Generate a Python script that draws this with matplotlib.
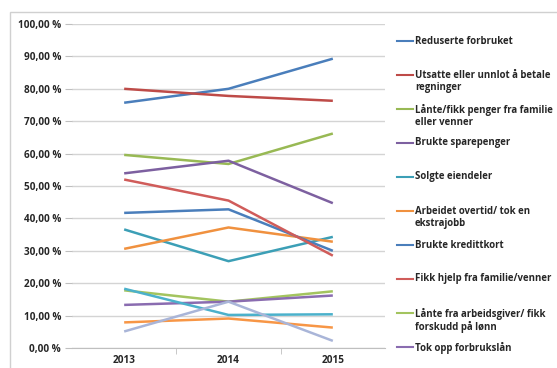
#!/usr/bin/env python3
"""Line chart: tiltak husholdningene gjorde, 2013-2015."""

import matplotlib.pyplot as plt
from matplotlib.lines import Line2D
from matplotlib.patches import Rectangle
from matplotlib.ticker import FuncFormatter, MultipleLocator

YEARS = ["2013", "2014", "2015"]

# series values in percent, Excel default series order
reduserte_forbruket = [75.7, 80.0, 89.3]
utsatte_regninger = [80.0, 77.8, 76.3]
lante_familie = [59.6, 56.8, 66.2]
brukte_sparepenger = [53.9, 57.8, 44.7]
solgte_eiendeler = [36.6, 26.8, 34.3]
arbeidet_overtid = [30.6, 37.2, 32.8]
brukte_kredittkort = [41.7, 42.8, 30.0]
fikk_hjelp = [52.0, 45.5, 28.5]
lante_arbeidsgiver = [17.8, 14.3, 17.5]
tok_opp_forbrukslan = [13.3, 14.3, 16.2]
serie_11 = [18.3, 10.2, 10.4]
serie_12 = [7.9, 9.1, 6.3]
serie_13 = [5.1, 14.3, 2.2]

LABELS = [
    "Reduserte forbruket",
    "Utsatte eller unnlot å betale\nregninger",
    "Lånte/fikk penger fra familie\neller venner",
    "Brukte sparepenger",
    "Solgte eiendeler",
    "Arbeidet overtid/ tok en\nekstrajobb",
    "Brukte kredittkort",
    "Fikk hjelp fra familie/venner",
    "Lånte fra arbeidsgiver/ fikk\nforskudd på lønn",
    "Tok opp forbrukslån",
]

SERIES = [
    reduserte_forbruket, utsatte_regninger, lante_familie, brukte_sparepenger,
    solgte_eiendeler, arbeidet_overtid, brukte_kredittkort, fikk_hjelp,
    lante_arbeidsgiver, tok_opp_forbrukslan, serie_11, serie_12, serie_13,
]
COLORS = [
    "#4a7ebb", "#be4b48", "#98b954", "#7d60a0", "#3c9fb6", "#f0913f",
    "#4a7ebb", "#d05c5a", "#a3c45f", "#8a6cb0", "#4bb1cb", "#f79646",
    "#a9b5d8",
]

TXT = "#262626"
FS = 7.2
LEG_FS = 6.9


def main() -> None:
    fig = plt.figure(figsize=(5.57, 3.68), dpi=100)
    fig.patches.append(Rectangle((10 / 557, -0.1), 1.2, (368 - 12) / 368 + 0.1,
                                 transform=fig.transFigure, fill=False,
                                 edgecolor="#d0d0d0", linewidth=1.0))

    ax = fig.add_axes([72 / 557, 20 / 368, 313 / 557, 324 / 368])
    x = list(range(len(YEARS)))
    for vals, col in zip(SERIES, COLORS):
        ax.plot(x, vals, color=col, linewidth=1.8, solid_capstyle="butt")

    ax.set_xlim(-0.5, 2.5)
    ax.set_ylim(0, 100)
    ax.yaxis.set_major_locator(MultipleLocator(10))
    ax.yaxis.set_major_formatter(
        FuncFormatter(lambda v, _: f"{v:.2f}".replace(".", ",") + " %"))
    ax.set_xticks(x)
    ax.set_xticklabels(YEARS)
    ax.set_xticks([0.5, 1.5], minor=True)
    ax.tick_params(axis="x", which="major", length=0, pad=5)
    ax.tick_params(axis="x", which="minor", length=4, color="#bfbfbf")
    ax.tick_params(axis="y", length=5, color="#bfbfbf", pad=3)
    for lab in ax.get_xticklabels() + ax.get_yticklabels():
        lab.set_fontsize(FS)
        lab.set_fontweight("bold")
        lab.set_color(TXT)
        lab.set_family("Open Sans")

    ax.grid(axis="y", color="#d4d4d4", linewidth=1.0)
    ax.set_axisbelow(True)
    for side in ("top", "right", "left"):
        ax.spines[side].set_visible(False)
    ax.spines["bottom"].set_color("#bfbfbf")

    # legend, drawn entry by entry with Excel's fixed row pitch
    y0 = 368 - 41
    for i, (lab, col) in enumerate(zip(LABELS, COLORS)):
        yy = (y0 - i * 34.0) / 368
        fig.add_artist(Line2D([397 / 557, 413 / 557], [yy, yy], color=col,
                              linewidth=1.5, transform=fig.transFigure))
        fig.text(415 / 557, yy + 5.5 / 368, lab, fontsize=LEG_FS,
                 fontweight="bold", family="Open Sans", color=TXT,
                 va="top", ha="left", linespacing=1.2)

    fig.savefig("out.png", dpi=100)
    plt.close(fig)


if __name__ == "__main__":
    main()
